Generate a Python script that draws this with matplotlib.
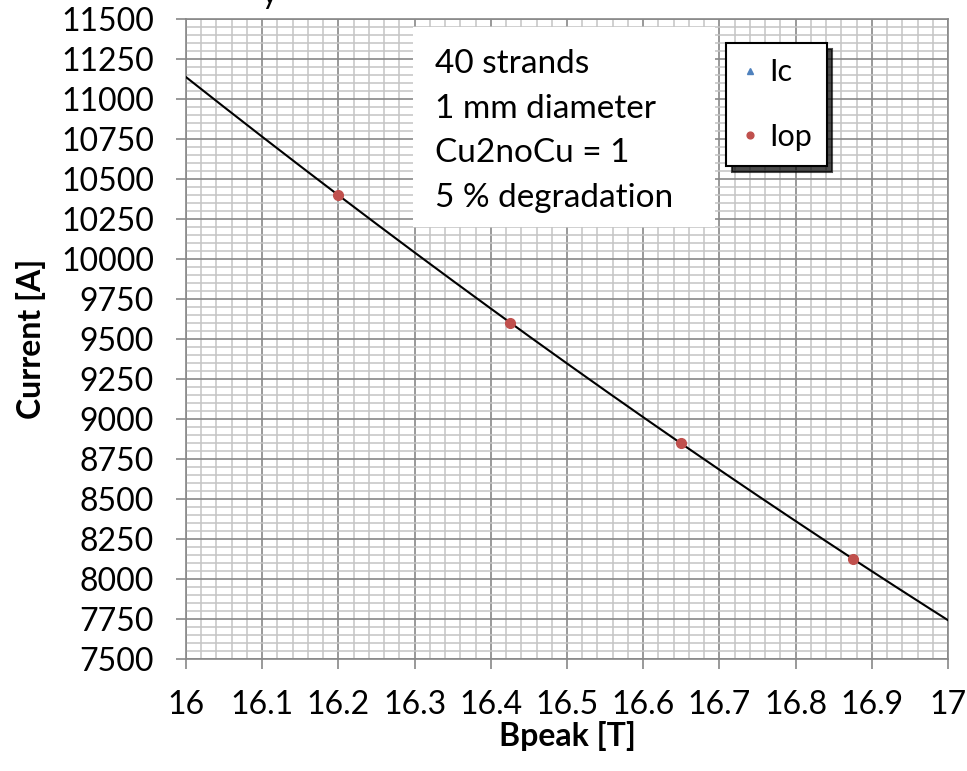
import numpy as np
import matplotlib
matplotlib.use("Agg")
import matplotlib.pyplot as plt
from matplotlib.patches import Rectangle
from matplotlib.ticker import MultipleLocator

plt.rcParams['font.family'] = ['Lato', 'DejaVu Sans']

W, H = 967, 771

# operating current vs peak field
bpeak = [16.2, 16.425, 16.65, 16.875]
iop = [10400, 9600, 8850, 8125]
# critical current series (no points in range)
bpeak_ic = []
ic = []

info_lines = ["40 strands", "1 mm diameter", "Cu2noCu = 1", "5 % degradation"]

fig = plt.figure(figsize=(W / 100, H / 100), dpi=100)
ax = fig.add_axes([186 / W, 1 - 659 / H, 762 / W, 640 / H])

ax.set_xlim(16, 17)
ax.set_ylim(7500, 11500)
ax.xaxis.set_major_locator(MultipleLocator(0.1))
ax.xaxis.set_minor_locator(MultipleLocator(0.02))
ax.yaxis.set_major_locator(MultipleLocator(250))
ax.yaxis.set_minor_locator(MultipleLocator(50))
ax.set_xticks(np.arange(16, 17.01, 0.1))
ax.set_xticklabels(["16", "16.1", "16.2", "16.3", "16.4", "16.5",
                    "16.6", "16.7", "16.8", "16.9", "17"])

ax.grid(which='minor', color='#c4c4c4', lw=1.1, zorder=0)
ax.grid(which='major', color='#888888', lw=1.2, zorder=0)
ax.set_axisbelow(True)
for s in ax.spines.values():
    s.set_color('#888888')
    s.set_linewidth(1.2)

ax.tick_params(which='major', direction='out', length=7, width=1.2,
               color='#888888', labelsize=23)
ax.tick_params(axis='x', pad=15)
ax.tick_params(axis='y', pad=16)
ax.tick_params(which='minor', length=0)

# quadratic trendline through the Iop points
coef = np.polyfit(bpeak, iop, 2)
xs = np.linspace(16, 17, 200)
ax.plot(xs, np.polyval(coef, xs), color='black', lw=1.5, zorder=3)

ax.plot(bpeak_ic, ic, ls='none', marker='^', color='#4F81BD', ms=7, label='Ic', zorder=4)
ax.plot(bpeak, iop, ls='none', marker='o', color='#C0504D', ms=7, label='Iop', zorder=4)

ax.set_xlabel("Bpeak [T]", fontsize=23, fontweight='bold', labelpad=1)
ax.set_ylabel("Current [A]", fontsize=23, fontweight='bold', labelpad=11)

# annotation box
box = Rectangle((413 / W, 1 - 227 / H), 302 / W, 200 / H, transform=fig.transFigure,
                facecolor='white', edgecolor='none', zorder=5)
ax.add_patch(box)
for line, yb in zip(info_lines, [72.7, 118, 161.7, 206.7]):
    fig.text(435 / W, 1 - yb / H, line, fontsize=24, va='baseline', ha='left', zorder=6)

leg = ax.legend(loc='upper left', bbox_to_anchor=(726 / W, 1 - 43 / H),
                bbox_transform=fig.transFigure, borderaxespad=0, fontsize=22,
                labelspacing=1.2, handlelength=0.55, handletextpad=0.35,
                borderpad=0.5, markerscale=0.7, fancybox=False,
                shadow={'color': 'black', 'alpha': 0.7, 'ox': 4, 'oy': -4})
leg.get_frame().set_edgecolor('black')
leg.get_frame().set_linewidth(1.5)
leg.get_frame().set_alpha(1)
leg.set_zorder(7)

# title above the canvas, only its tail shows
fig.text(262 / W, 1 - 4 / H, "y", fontsize=22, va='baseline', ha='left')

fig.savefig("out.png", dpi=100)
